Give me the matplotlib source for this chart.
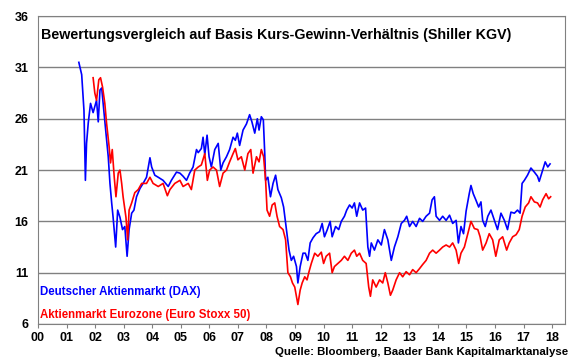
import matplotlib
matplotlib.use("Agg")
import matplotlib.pyplot as plt

plt.rcParams['font.family'] = ['Liberation Sans', 'DejaVu Sans']

# DAX Shiller-KGV (Jahr, Wert)
dax_year = [2001.43, 2001.53, 2001.61, 2001.66, 2001.70, 2001.76, 2001.84, 2001.93, 2002.05, 2002.11,
            2002.17, 2002.23, 2002.28, 2002.38, 2002.46, 2002.52, 2002.58, 2002.63, 2002.72, 2002.79,
            2002.87, 2002.96, 2003.04, 2003.12, 2003.19, 2003.28, 2003.36, 2003.45, 2003.57, 2003.68,
            2003.80, 2003.92, 2003.98, 2004.09, 2004.21, 2004.38, 2004.56, 2004.67, 2004.85, 2004.97,
            2005.08, 2005.20, 2005.31, 2005.43, 2005.55, 2005.61, 2005.72, 2005.78, 2005.84, 2005.92,
            2005.99, 2006.07, 2006.19, 2006.31, 2006.40, 2006.48, 2006.60, 2006.71, 2006.83, 2006.91,
            2006.98, 2007.06, 2007.18, 2007.30, 2007.41, 2007.49, 2007.59, 2007.68, 2007.74, 2007.82,
            2007.89, 2007.94, 2007.97, 2008.05, 2008.14, 2008.23, 2008.32, 2008.40, 2008.52, 2008.60,
            2008.70, 2008.79, 2008.87, 2008.95, 2009.05, 2009.10, 2009.18, 2009.28, 2009.36, 2009.45,
            2009.53, 2009.63, 2009.74, 2009.86, 2009.95, 2010.03, 2010.13, 2010.23, 2010.30, 2010.42,
            2010.53, 2010.62, 2010.73, 2010.81, 2010.91, 2011.00, 2011.08, 2011.16, 2011.26, 2011.37,
            2011.47, 2011.55, 2011.61, 2011.67, 2011.78, 2011.90, 2012.02, 2012.13, 2012.25, 2012.37,
            2012.48, 2012.60, 2012.72, 2012.83, 2012.91, 2013.01, 2013.12, 2013.24, 2013.36, 2013.47,
            2013.59, 2013.71, 2013.80, 2013.88, 2013.94, 2014.06, 2014.17, 2014.29, 2014.41, 2014.52,
            2014.64, 2014.72, 2014.81, 2014.90, 2014.99, 2015.10, 2015.16, 2015.24, 2015.33, 2015.43,
            2015.51, 2015.57, 2015.66, 2015.75, 2015.86, 2015.98, 2016.09, 2016.21, 2016.33, 2016.44,
            2016.56, 2016.68, 2016.79, 2016.88, 2016.95, 2017.03, 2017.14, 2017.26, 2017.38, 2017.49,
            2017.55, 2017.65, 2017.76, 2017.85, 2017.93]
dax_kgv = [31.5, 30.3, 26.8, 20.0, 23.6, 25.6, 27.5, 26.6, 27.8, 25.7,
           28.8, 29.0, 27.5, 24.6, 22.3, 19.7, 17.8, 16.4, 13.5, 17.1,
           16.4, 15.2, 15.5, 12.6, 15.2, 16.8, 17.1, 18.4, 19.2, 19.7,
           20.3, 22.2, 21.3, 20.5, 20.3, 20.0, 19.4, 20.0, 20.8, 20.7,
           20.4, 20.0, 20.7, 21.3, 23.0, 22.7, 23.1, 24.2, 22.5, 24.4,
           22.3, 21.3, 23.0, 23.6, 21.0, 21.7, 22.3, 23.0, 24.2, 23.9,
           24.6, 23.4, 24.9, 25.5, 26.4, 25.7, 24.6, 26.0, 24.9, 26.2,
           25.9, 22.6, 20.0, 20.3, 18.4, 19.7, 20.5, 19.1, 18.3, 17.4,
           15.2, 13.2, 12.2, 12.6, 11.6, 10.0, 11.6, 12.9, 12.9, 12.2,
           13.9, 14.4, 14.8, 15.0, 15.8, 14.5, 15.2, 16.0, 14.5, 15.5,
           15.2, 16.0, 16.5, 17.1, 17.6, 17.3, 17.8, 16.5, 17.8, 17.1,
           17.3, 13.5, 12.6, 13.9, 13.2, 14.2, 13.7, 15.2, 14.2, 12.2,
           13.5, 14.5, 15.8, 16.1, 16.5, 15.5, 16.0, 15.5, 16.3, 16.0,
           16.5, 16.8, 18.1, 18.4, 16.5, 16.1, 16.5, 16.1, 16.6, 15.8,
           16.1, 13.9, 15.5, 14.8, 17.0, 18.7, 19.5, 18.7, 18.1, 17.4,
           17.9, 16.1, 15.5, 16.5, 17.1, 16.1, 15.2, 16.8, 16.1, 15.2,
           16.9, 16.8, 17.1, 16.8, 19.7, 20.0, 20.5, 21.2, 20.8, 20.4,
           19.9, 20.8, 21.8, 21.3, 21.6]

# Euro Stoxx 50 Shiller-KGV (Jahr, Wert)
sx_year = [2001.93, 2001.99, 2002.05, 2002.13, 2002.19, 2002.26, 2002.34, 2002.40, 2002.49, 2002.54,
           2002.60, 2002.67, 2002.73, 2002.81, 2002.87, 2002.93, 2002.98, 2003.08, 2003.14, 2003.19,
           2003.28, 2003.39, 2003.51, 2003.63, 2003.80, 2003.92, 2004.03, 2004.21, 2004.38, 2004.53,
           2004.62, 2004.79, 2004.97, 2005.08, 2005.26, 2005.37, 2005.49, 2005.61, 2005.72, 2005.84,
           2005.93, 2006.01, 2006.13, 2006.25, 2006.36, 2006.48, 2006.60, 2006.71, 2006.83, 2006.91,
           2007.00, 2007.12, 2007.24, 2007.35, 2007.45, 2007.53, 2007.65, 2007.74, 2007.82, 2007.90,
           2007.97, 2008.02, 2008.11, 2008.20, 2008.29, 2008.37, 2008.46, 2008.58, 2008.67, 2008.75,
           2008.84, 2008.91, 2008.99, 2009.05, 2009.10, 2009.18, 2009.25, 2009.34, 2009.42, 2009.49,
           2009.57, 2009.69, 2009.80, 2009.92, 2010.00, 2010.09, 2010.21, 2010.30, 2010.38, 2010.50,
           2010.62, 2010.73, 2010.85, 2010.97, 2011.08, 2011.16, 2011.26, 2011.37, 2011.49, 2011.58,
           2011.64, 2011.72, 2011.84, 2011.96, 2012.07, 2012.16, 2012.25, 2012.34, 2012.42, 2012.54,
           2012.66, 2012.77, 2012.89, 2013.01, 2013.12, 2013.24, 2013.36, 2013.47, 2013.59, 2013.71,
           2013.82, 2013.94, 2014.06, 2014.17, 2014.29, 2014.41, 2014.52, 2014.64, 2014.73, 2014.81,
           2014.93, 2015.05, 2015.16, 2015.28, 2015.40, 2015.48, 2015.57, 2015.69, 2015.80, 2015.92,
           2016.03, 2016.15, 2016.27, 2016.41, 2016.50, 2016.62, 2016.74, 2016.85, 2016.95, 2017.06,
           2017.18, 2017.26, 2017.38, 2017.49, 2017.58, 2017.67, 2017.79, 2017.88, 2017.95]
sx_kgv = [30.0, 28.5, 27.8, 29.8, 30.0, 29.1, 27.5, 25.6, 23.3, 21.7,
          23.0, 20.3, 18.4, 20.7, 21.0, 19.7, 18.4, 16.4, 14.2, 17.1,
          17.8, 18.8, 19.1, 19.7, 19.7, 20.3, 19.7, 19.4, 19.7, 18.5,
          19.1, 19.7, 20.0, 19.4, 19.7, 19.1, 21.0, 21.3, 21.5, 22.6,
          20.0, 21.0, 21.3, 21.0, 19.4, 20.7, 21.0, 21.8, 22.6, 23.1,
          22.0, 22.3, 21.0, 22.6, 23.0, 20.7, 22.3, 21.8, 23.0, 22.3,
          20.0, 17.1, 16.5, 17.6, 17.8, 16.5, 15.5, 15.2, 14.2, 11.0,
          10.6, 10.0, 9.6, 8.7, 7.9, 9.3, 10.0, 10.6, 10.3, 11.1,
          11.9, 12.9, 12.6, 13.0, 11.9, 12.6, 12.9, 11.0, 11.6, 11.9,
          12.2, 12.6, 12.2, 12.9, 13.2, 12.6, 12.9, 12.2, 11.9, 9.6,
          8.7, 10.3, 9.6, 10.3, 10.0, 11.0, 10.0, 8.8, 9.3, 10.3,
          11.0, 10.6, 11.1, 10.8, 11.3, 11.0, 11.4, 11.8, 12.2, 12.9,
          13.2, 12.9, 13.2, 13.5, 13.7, 13.5, 13.9, 13.2, 11.9, 12.9,
          13.5, 14.8, 16.0, 15.3, 15.2, 14.5, 13.2, 13.9, 14.8, 14.2,
          12.6, 14.2, 14.5, 13.2, 13.9, 14.5, 14.7, 15.2, 16.5, 17.4,
          17.8, 18.4, 17.9, 17.8, 17.4, 18.1, 18.7, 18.2, 18.4]

y_ticks = [6, 11, 16, 21, 26, 31, 36]
x_ticks = list(range(2000, 2019))
x_labels = ['%02d' % (y - 2000) for y in x_ticks]

fig = plt.figure(figsize=(5.8, 3.59), dpi=100)
ax = fig.add_axes([0.0655, 0.0975, 0.9085, 0.8575])

ax.plot(dax_year, dax_kgv, color='#0000ff', lw=1.2, zorder=3)
ax.plot(sx_year, sx_kgv, color='#ff0000', lw=1.2, zorder=4)

ax.set_xlim(2000, 2018.45)
ax.set_ylim(6, 36)
ax.set_yticks(y_ticks)
ax.set_xticks(x_ticks)
ax.set_xticklabels(x_labels)
ax.yaxis.grid(True, color='#808080', lw=1.0)
ax.set_axisbelow(True)
for s in ax.spines.values():
  s.set_color('#808080')
ax.tick_params(axis='y', length=0, pad=7, labelsize=9)
ax.tick_params(axis='x', length=3, color='#808080', pad=3, labelsize=9)
for lab in ax.get_xticklabels() + ax.get_yticklabels():
  lab.set_fontweight('bold')

ax.text(0.006, 0.96, 'Bewertungsvergleich auf Basis Kurs-Gewinn-Verhältnis (Shiller KGV)',
        transform=ax.transAxes, ha='left', va='top', fontsize=10.3, fontweight='bold')
ax.text(0.004, 0.105, 'Deutscher Aktienmarkt (DAX)', transform=ax.transAxes,
        ha='left', va='center', fontsize=8.3, fontweight='bold', color='#0000ff')
ax.text(0.004, 0.03, 'Aktienmarkt Eurozone (Euro Stoxx 50)', transform=ax.transAxes,
        ha='left', va='center', fontsize=8.3, fontweight='bold', color='#ff0000')
fig.text(0.98, 0.02, 'Quelle: Bloomberg, Baader Bank Kapitalmarktanalyse',
         ha='right', va='center', fontsize=8.2, fontweight='bold')

fig.savefig('out.png', dpi=100)
